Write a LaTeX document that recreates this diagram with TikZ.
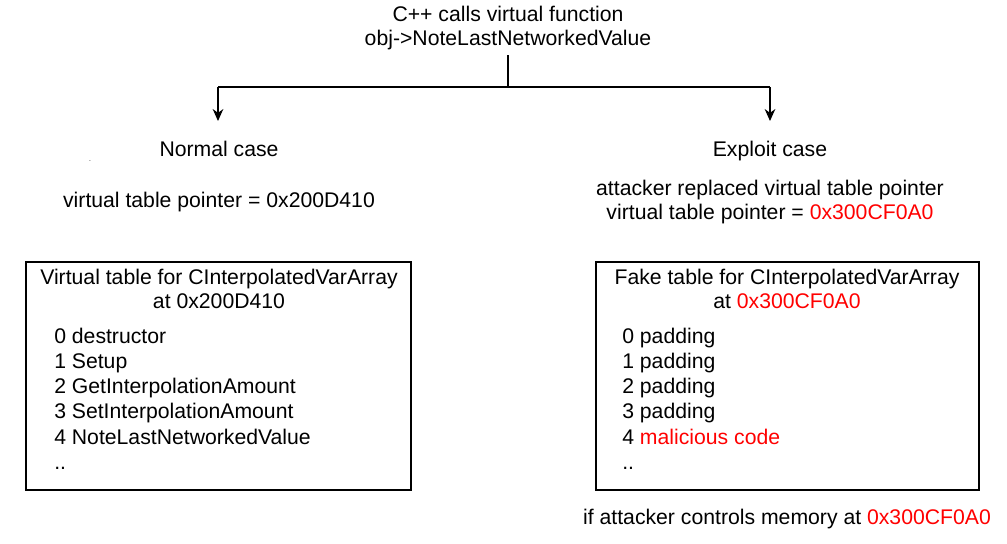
\documentclass[tikz,border=0pt]{standalone}
\usepackage{fontspec}
\setmainfont{Liberation Sans}
\usetikzlibrary{arrows.meta}
\definecolor{hot}{RGB}{255,0,0}
\tikzset{
    lbl/.style={font=\fontsize{15.9pt}{18.6pt}\selectfont, inner sep=0pt, align=center},
    item/.style={lbl, anchor=base west},
    tbl/.style={draw, line width=1pt},
    flow/.style={line width=1pt, -{Stealth[length=9pt,width=8pt]}},
}
\begin{document}
\begin{tikzpicture}[x=0.75pt, y=-0.75pt]
    \useasboundingbox (0,0) rectangle (1007,543);
    % call
    \node[lbl] (call) at (508,28) {C++ calls virtual function\\obj->NoteLastNetworkedValue};
    \coordinate (split) at (508,87);
    \coordinate (lsplit) at (218,87);
    \coordinate (rsplit) at (770,87);
    \coordinate (larrow) at (218,121);
    \coordinate (rarrow) at (770,121);
    \draw[line width=1pt] (call.south |- 0,55) -- (split);
    \draw[line width=1pt] (lsplit) -- (rsplit);
    \draw[flow] (lsplit) -- (larrow);
    \draw[flow] (rsplit) -- (rarrow);

    % normal case
    \node[lbl, anchor=base] (normal) at (219,156) {Normal case};
    \node[lbl, font=\tiny] (dot) at (90,161) {.};
    \node[lbl] (nptr) at (219,202) {virtual table pointer = 0x200D410};
    \draw[tbl] (26,262) rectangle (411,490);
    \node[lbl] (ntitle) at (219,289) {Virtual table for CInterpolatedVarArray\\at 0x200D410};
    \node[item] (n0) at (54,343) {0 destructor};
    \node[item] (n1) at (54,368) {1 Setup};
    \node[item] (n2) at (54,393) {2 GetInterpolationAmount};
    \node[item] (n3) at (54,418) {3 SetInterpolationAmount};
    \node[item] (n4) at (54,444) {4 NoteLastNetworkedValue};
    \node[item] (n5) at (54,469) {..};

    % exploit case
    \node[lbl, anchor=base] (exploit) at (770,156) {Exploit case};
    \node[lbl] (eptr) at (770,202) {attacker replaced virtual table pointer\\virtual table pointer = \textcolor{hot}{0x300CF0A0}};
    \draw[tbl] (596,262) rectangle (979,490);
    \node[lbl] (etitle) at (787,289) {Fake table for CInterpolatedVarArray\\at \textcolor{hot}{0x300CF0A0}};
    \node[item] (e0) at (622,343) {0 padding};
    \node[item] (e1) at (622,368) {1 padding};
    \node[item] (e2) at (622,393) {2 padding};
    \node[item] (e3) at (622,418) {3 padding};
    \node[item] (e4) at (622,444) {4 \textcolor{hot}{malicious code}};
    \node[item] (e5) at (622,469) {..};
    \node[lbl] (cond) at (787,519) {if attacker controls memory at \textcolor{hot}{0x300CF0A0}};
\end{tikzpicture}
\end{document}
